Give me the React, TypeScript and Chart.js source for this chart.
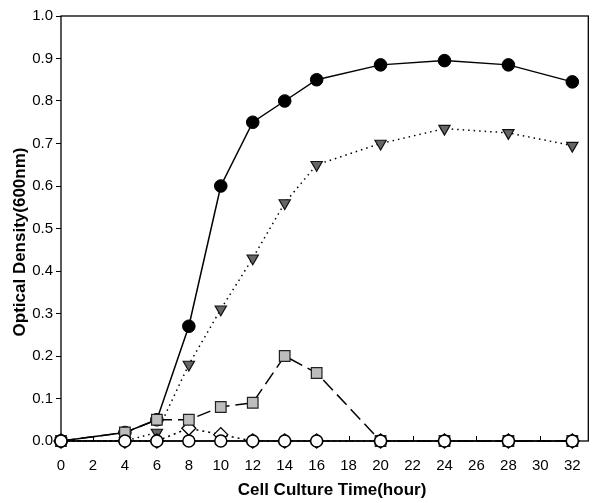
import React, { useEffect, useRef } from "react";
import { Chart, registerables } from "chart.js";

Chart.register(...registerables);

// Culture time (hours)
const hours = [0, 4, 6, 8, 10, 12, 14, 16, 20, 24, 28, 32];
// Series values (OD 600nm)
const filledCircleOD = [0, 0.02, 0.05, 0.27, 0.6, 0.75, 0.8, 0.85, 0.885, 0.895, 0.885, 0.845];
const triangleOD = [0, 0, 0.02, 0.18, 0.31, 0.43, 0.56, 0.65, 0.7, 0.735, 0.725, 0.695];
const squareOD = [0, 0.02, 0.05, 0.05, 0.08, 0.09, 0.2, 0.16, 0, 0, 0, 0];
const diamondOD = [0, 0, 0, 0.03, 0.015, 0, 0, 0, 0, 0, 0, 0];
const openCircleOD = [0, 0, 0, 0, 0, 0, 0, 0, 0, 0, 0, 0];

const xTickValues = [0, 2, 4, 6, 8, 10, 12, 14, 16, 18, 20, 22, 24, 26, 28, 30, 32];
const yTickValues = [0, 0.1, 0.2, 0.3, 0.4, 0.5, 0.6, 0.7, 0.8, 0.9, 1.0];

const xTitle = "Cell Culture Time(hour)";
const yTitle = "Optical Density(600nm)";

const FONT = "'Liberation Sans', Arial, sans-serif";

const toPoints = (vals: number[]) => hours.map((h, i) => ({ x: h, y: vals[i] }));

const boxPlugin = {
  id: "boxPlugin",
  beforeDatasetsDraw(chart: any) {
    const { ctx, chartArea, scales } = chart;
    const { left, right, top, bottom } = chartArea;
    ctx.save();
    ctx.strokeStyle = "#000";
    ctx.lineWidth = 1.3;
    ctx.strokeRect(left, top, right - left, bottom - top);
    ctx.lineWidth = 1;
    xTickValues.forEach((v) => {
      const px = Math.round(scales.x.getPixelForValue(v)) + 0.5;
      ctx.beginPath();
      ctx.moveTo(px, bottom);
      ctx.lineTo(px, bottom - 5);
      ctx.stroke();
    });
    ctx.restore();
  },
  afterDraw(chart: any) {
    const { ctx } = chart;
    ctx.save();
    ctx.fillStyle = "#000";
    ctx.font = `bold 17px ${FONT}`;
    ctx.textAlign = "center";
    ctx.textBaseline = "middle";
    ctx.fillText(xTitle, 332, 490);
    ctx.translate(20, 242);
    ctx.rotate(-Math.PI / 2);
    ctx.fillText(yTitle, 0, 0);
    ctx.restore();
  },
};

export default function App() {
  const ref = useRef<HTMLCanvasElement | null>(null);

  useEffect(() => {
    if (!ref.current) return;
    const chart = new Chart(ref.current, {
      type: "line",
      data: {
        datasets: [
          {
            label: "open circle",
            data: toPoints(openCircleOD),
            order: 0,
            borderColor: "#000",
            borderWidth: 1.5,
            pointStyle: "circle",
            pointRadius: 6,
            pointBackgroundColor: "#fff",
            pointBorderColor: "#000",
            pointBorderWidth: 1.5,
          },
          {
            label: "square",
            data: toPoints(squareOD),
            order: 1,
            borderColor: "#000",
            borderWidth: 1.5,
            borderDash: [14, 6],
            pointStyle: "rect",
            pointRadius: 7.5,
            pointBackgroundColor: "#bdbdbd",
            pointBorderColor: "#222",
            pointBorderWidth: 1.2,
          },
          {
            label: "diamond",
            data: toPoints(diamondOD),
            order: 2,
            borderColor: "#000",
            borderWidth: 1.5,
            borderDash: [2, 4],
            pointStyle: "rectRot",
            pointRadius: 7,
            pointBackgroundColor: "#fff",
            pointBorderColor: "#000",
            pointBorderWidth: 1.3,
          },
          {
            label: "triangle",
            data: toPoints(triangleOD),
            order: 3,
            borderColor: "#000",
            borderWidth: 1.5,
            borderDash: [1.5, 4],
            pointStyle: "triangle",
            pointRotation: 180,
            pointRadius: 6.5,
            pointBackgroundColor: "#666",
            pointBorderColor: "#111",
            pointBorderWidth: 1.2,
          },
          {
            label: "filled circle",
            data: toPoints(filledCircleOD),
            order: 4,
            borderColor: "#000",
            borderWidth: 1.5,
            pointStyle: "circle",
            pointRadius: 6.3,
            pointBackgroundColor: "#000",
            pointBorderColor: "#000",
            pointBorderWidth: 1,
          },
        ],
      },
      options: {
        animation: false,
        responsive: false,
        devicePixelRatio: 1,
        clip: false as any,
        layout: { padding: { left: 0, right: 3, top: 16, bottom: 0 } },
        plugins: {
          legend: { display: false },
          tooltip: { enabled: false },
        },
        elements: { line: { tension: 0 } },
        scales: {
          x: {
            type: "linear",
            min: 0,
            max: 33,
            afterBuildTicks: (scale: any) => {
              scale.ticks = xTickValues.map((v) => ({ value: v }));
            },
            afterFit: (scale: any) => {
              scale.height = 62;
            },
            grid: { display: false },
            border: { display: false },
            ticks: {
              color: "#000",
              font: { family: FONT, size: 15 },
              padding: 8,
              maxRotation: 0,
              autoSkip: false,
            },
          },
          y: {
            type: "linear",
            min: 0,
            max: 1,
            afterBuildTicks: (scale: any) => {
              scale.ticks = yTickValues.map((v) => ({ value: v }));
            },
            afterFit: (scale: any) => {
              scale.width = 61;
            },
            grid: {
              display: true,
              drawOnChartArea: false,
              drawTicks: true,
              tickLength: 5,
              color: "#000",
              lineWidth: 1,
            },
            border: { display: false },
            ticks: {
              color: "#000",
              font: { family: FONT, size: 15 },
              padding: 3,
              callback: (v: any) => Number(v).toFixed(1),
            },
          },
        },
      },
      plugins: [boxPlugin],
    });
    return () => chart.destroy();
  }, []);

  return (
    <div style={{ position: "absolute", left: 0, top: 0, width: 597, height: 503 }}>
      <canvas ref={ref} width={597} height={503} style={{ width: 597, height: 503, display: "block" }} />
    </div>
  );
}
